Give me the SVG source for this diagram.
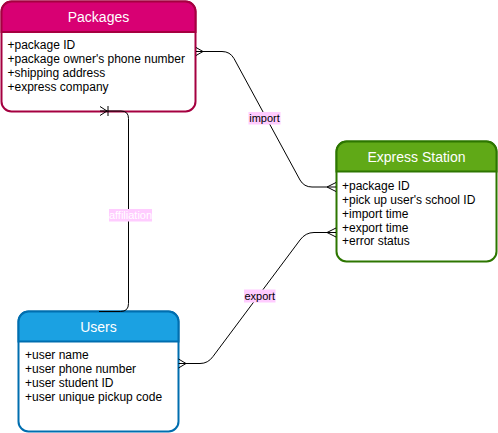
<svg xmlns="http://www.w3.org/2000/svg" width="498" height="433" viewBox="0 0 498 433">
<style>
.box{fill:#ffffff;stroke-width:2}
.hdr{stroke-width:2}
.title{font-family:"Liberation Sans",Arial,sans-serif;font-size:14px;fill:#ffffff;text-anchor:middle}
.attr{font-family:"Liberation Sans",Arial,sans-serif;font-size:12px;fill:#000000}
.edge{fill:none;stroke:#000000;stroke-width:1}
.lblbg{fill:#FFCCFF}
.lbl{font-family:"Liberation Sans",Arial,sans-serif;font-size:11px;text-anchor:middle}
</style>
<rect width="498" height="433" fill="#ffffff"/>
<g id="node-packages">
  <rect class="box" x="1.5" y="1.5" width="194" height="110" rx="10" ry="10" stroke="#A50040"/>
  <path class="hdr" d="M1.5,32 L1.5,11.5 A10,10 0 0 1 11.5,1.5 L185.5,1.5 A10,10 0 0 1 195.5,11.5 L195.5,32 Z" fill="#d80073" stroke="#A50040"/>
  <text class="title" x="98.5" y="22">Packages</text>
  <text class="attr" x="7.5" y="48.5">+package ID</text>
  <text class="attr" x="7.5" y="63">+package owner's phone number</text>
  <text class="attr" x="7.5" y="77">+shipping address</text>
  <text class="attr" x="7.5" y="91">+express company</text>
</g>
<g id="node-express-station">
  <rect class="box" x="336.5" y="141.5" width="160" height="120" rx="10" ry="10" stroke="#2D7600"/>
  <path class="hdr" d="M336.5,171.5 L336.5,151.5 A10,10 0 0 1 346.5,141.5 L486.5,141.5 A10,10 0 0 1 496.5,151.5 L496.5,171.5 Z" fill="#60a917" stroke="#2D7600"/>
  <text class="title" x="416.5" y="162">Express Station</text>
  <text class="attr" x="342" y="189.5">+package ID</text>
  <text class="attr" x="342" y="203.5">+pick up user's school ID</text>
  <text class="attr" x="342" y="217.5">+import time</text>
  <text class="attr" x="342" y="231.5">+export time</text>
  <text class="attr" x="342" y="245">+error status</text>
</g>
<g id="node-users">
  <rect class="box" x="18.5" y="311.5" width="160" height="120" rx="10" ry="10" stroke="#006EAF"/>
  <path class="hdr" d="M18.5,341.5 L18.5,321.5 A10,10 0 0 1 28.5,311.5 L168.5,311.5 A10,10 0 0 1 178.5,321.5 L178.5,341.5 Z" fill="#1ba1e2" stroke="#006EAF"/>
  <text class="title" x="98.5" y="332">Users</text>
  <text class="attr" x="25" y="359">+user name</text>
  <text class="attr" x="25" y="373">+user phone number</text>
  <text class="attr" x="25" y="387">+user student ID</text>
  <text class="attr" x="25" y="401">+user unique pickup code</text>
</g>
<g id="connectors">
  <g id="edge-import">
    <path class="edge" d="M196,51.5 L222,51.5 Q230,51.5 234,58.5 L300,180 Q304,187 312,187 L336,187"/>
    <path class="edge" d="M196,47.5 L203,51.5 L196,55.5"/>
    <path class="edge" d="M336,182.5 L327,187 L336,191.5"/>
    <rect class="lblbg" x="248.5" y="112" width="32" height="12.5"/>
    <text class="lbl" x="264.5" y="122" fill="#000000">import</text>
  </g>
  <g id="edge-export">
    <path class="edge" d="M178.5,363.5 L200,363.5 Q208,363.5 213,356.5 L300,240 Q305.5,232.5 314,232.5 L336,232.5"/>
    <path class="edge" d="M178.5,359 L186,363.5 L178.5,368"/>
    <path class="edge" d="M336,228 L327,232.5 L336,237"/>
    <rect class="lblbg" x="244" y="289.5" width="31.5" height="13"/>
    <text class="lbl" x="259.7" y="300" fill="#000000">export</text>
  </g>
  <g id="edge-affiliation">
    <path class="edge" d="M100,111 L121,111 Q128.5,111 128.5,118.5 L128.5,303.5 Q128.5,311.5 120.5,311.5 L99,311.5"/>
    <path class="edge" d="M100,106.5 L107,111 L100,115.5"/>
    <path class="edge" d="M108,106 L108,116"/>
    <rect class="lblbg" x="109" y="209" width="43" height="12.5"/>
    <text class="lbl" x="130.5" y="219" fill="#ffffff">affiliation</text>
  </g>
</g>
</svg>
